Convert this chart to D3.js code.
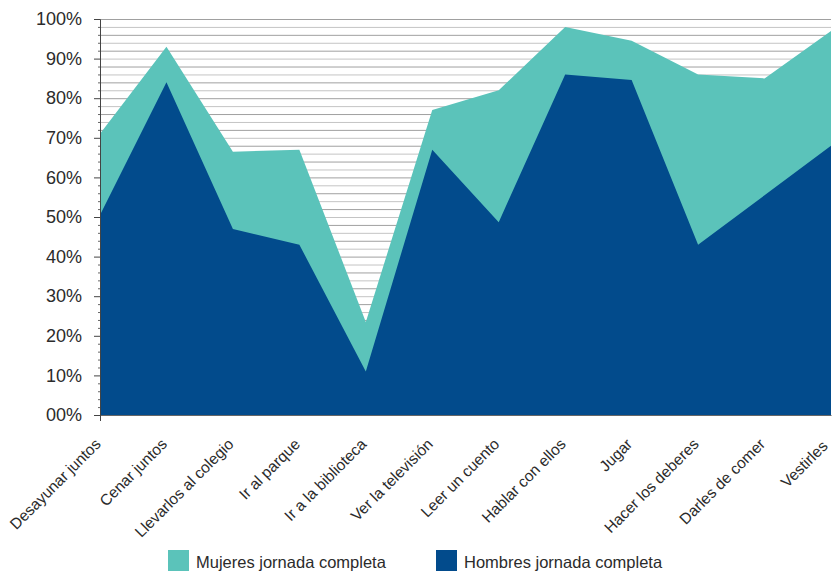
<!DOCTYPE html>
<html>
<head>
<meta charset="utf-8">
<script src="https://cdn.jsdelivr.net/npm/d3@7"></script>
<style>
  body { margin: 0; background: #fff; }
  svg { display: block; font-family: "Liberation Sans", Arial, sans-serif; }
</style>
</head>
<body>
<div id="chart"></div>
<script>
// categories and values (percent)
const categories = ["Desayunar juntos", "Cenar juntos", "Llevarlos al colegio", "Ir al parque",
  "Ir a la biblioteca", "Ver la televisión", "Leer un cuento", "Hablar con ellos",
  "Jugar", "Hacer los deberes", "Darles de comer", "Vestirles"];
const mujeres = [71, 93, 66.5, 67, 23.5, 77, 82, 98, 94.5, 86, 85, 97];
const hombres = [50.5, 84, 47, 43, 11, 67, 48.7, 86, 84.6, 43, 55.5, 68];
const yTicks = [0, 10, 20, 30, 40, 50, 60, 70, 80, 90, 100];
const seriesNames = ["Mujeres jornada completa", "Hombres jornada completa"];
const colors = ["#5bc3ba", "#024b8c"];

const W = 832, H = 573;
const margin = {top: 19, right: 1, bottom: 158, left: 100};
const width = W - margin.left - margin.right,
      height = H - margin.top - margin.bottom;

const svg = d3.select("#chart").append("svg")
    .attr("width", W).attr("height", H)
  .append("g")
    .attr("transform", `translate(${margin.left},${margin.top})`);

const x = d3.scalePoint().domain(categories).range([0, width]);
const y = d3.scaleLinear().domain([0, 100]).range([height, 0]);

// gridlines every 2%
const grid = d3.range(2, 101, 2);
svg.append("g").selectAll("line")
  .data(grid)
  .join("line")
    .attr("x1", 0).attr("x2", width)
    .attr("y1", d => y(d) + 0.5).attr("y2", d => y(d) + 0.5)
    .attr("stroke", (d, i) => i % 2 ? "#a0a0a0" : "#c4c4c4")
    .attr("stroke-width", 1);

// areas: mujeres behind, hombres in front
const area = vals => d3.area()
    .x((d, i) => x(categories[i]))
    .y0(y(0))
    .y1(d => y(d))(vals);

svg.append("path").attr("d", area(mujeres)).attr("fill", colors[0]);
svg.append("path").attr("d", area(hombres)).attr("fill", colors[1]);

// y axis
const yAxis = svg.append("g")
    .call(d3.axisLeft(y).tickValues(yTicks).tickSize(6)
      .tickFormat(d => (d < 10 ? "0" + d : d) + "%"));
yAxis.select(".domain").attr("stroke", "#444");
yAxis.selectAll(".tick line").attr("stroke", "#444");
yAxis.selectAll(".tick text")
    .attr("x", -18)
    .attr("fill", "#2b2b2b")
    .style("font-size", "18px");

// minor ticks
svg.append("g").selectAll("line")
  .data(grid.filter(d => d % 10))
  .join("line")
    .attr("x1", -2).attr("x2", 0)
    .attr("y1", d => y(d) + 0.5).attr("y2", d => y(d) + 0.5)
    .attr("stroke", "#666");

// x axis
const xAxis = svg.append("g")
    .attr("transform", `translate(0,${height})`)
    .call(d3.axisBottom(x).tickSize(0));
xAxis.select(".domain").attr("stroke", "#666");
xAxis.append("line")
    .attr("x1", 0.5).attr("x2", 0.5).attr("y1", 0).attr("y2", 6)
    .attr("stroke", "#444");
xAxis.selectAll(".tick text")
    .attr("fill", "#2b2b2b")
    .style("font-size", "15.5px")
    .attr("text-anchor", "end")
    .attr("transform", (d, i) => i === categories.length - 1
      ? "translate(-5,30) rotate(-45)"
      : "translate(-1,28) rotate(-45)")
    .attr("dy", "0");

// legend
const legend = svg.append("g")
    .attr("transform", `translate(0,${height})`);
const legX = [68, 336];
seriesNames.forEach((name, i) => {
  legend.append("rect")
      .attr("x", legX[i]).attr("y", 135)
      .attr("width", 21).attr("height", 21)
      .attr("fill", colors[i]);
  legend.append("text")
      .attr("x", legX[i] + 28).attr("y", 153)
      .attr("fill", "#2b2b2b")
      .style("font-size", "16.5px")
      .text(name);
});
</script>
</body>
</html>
